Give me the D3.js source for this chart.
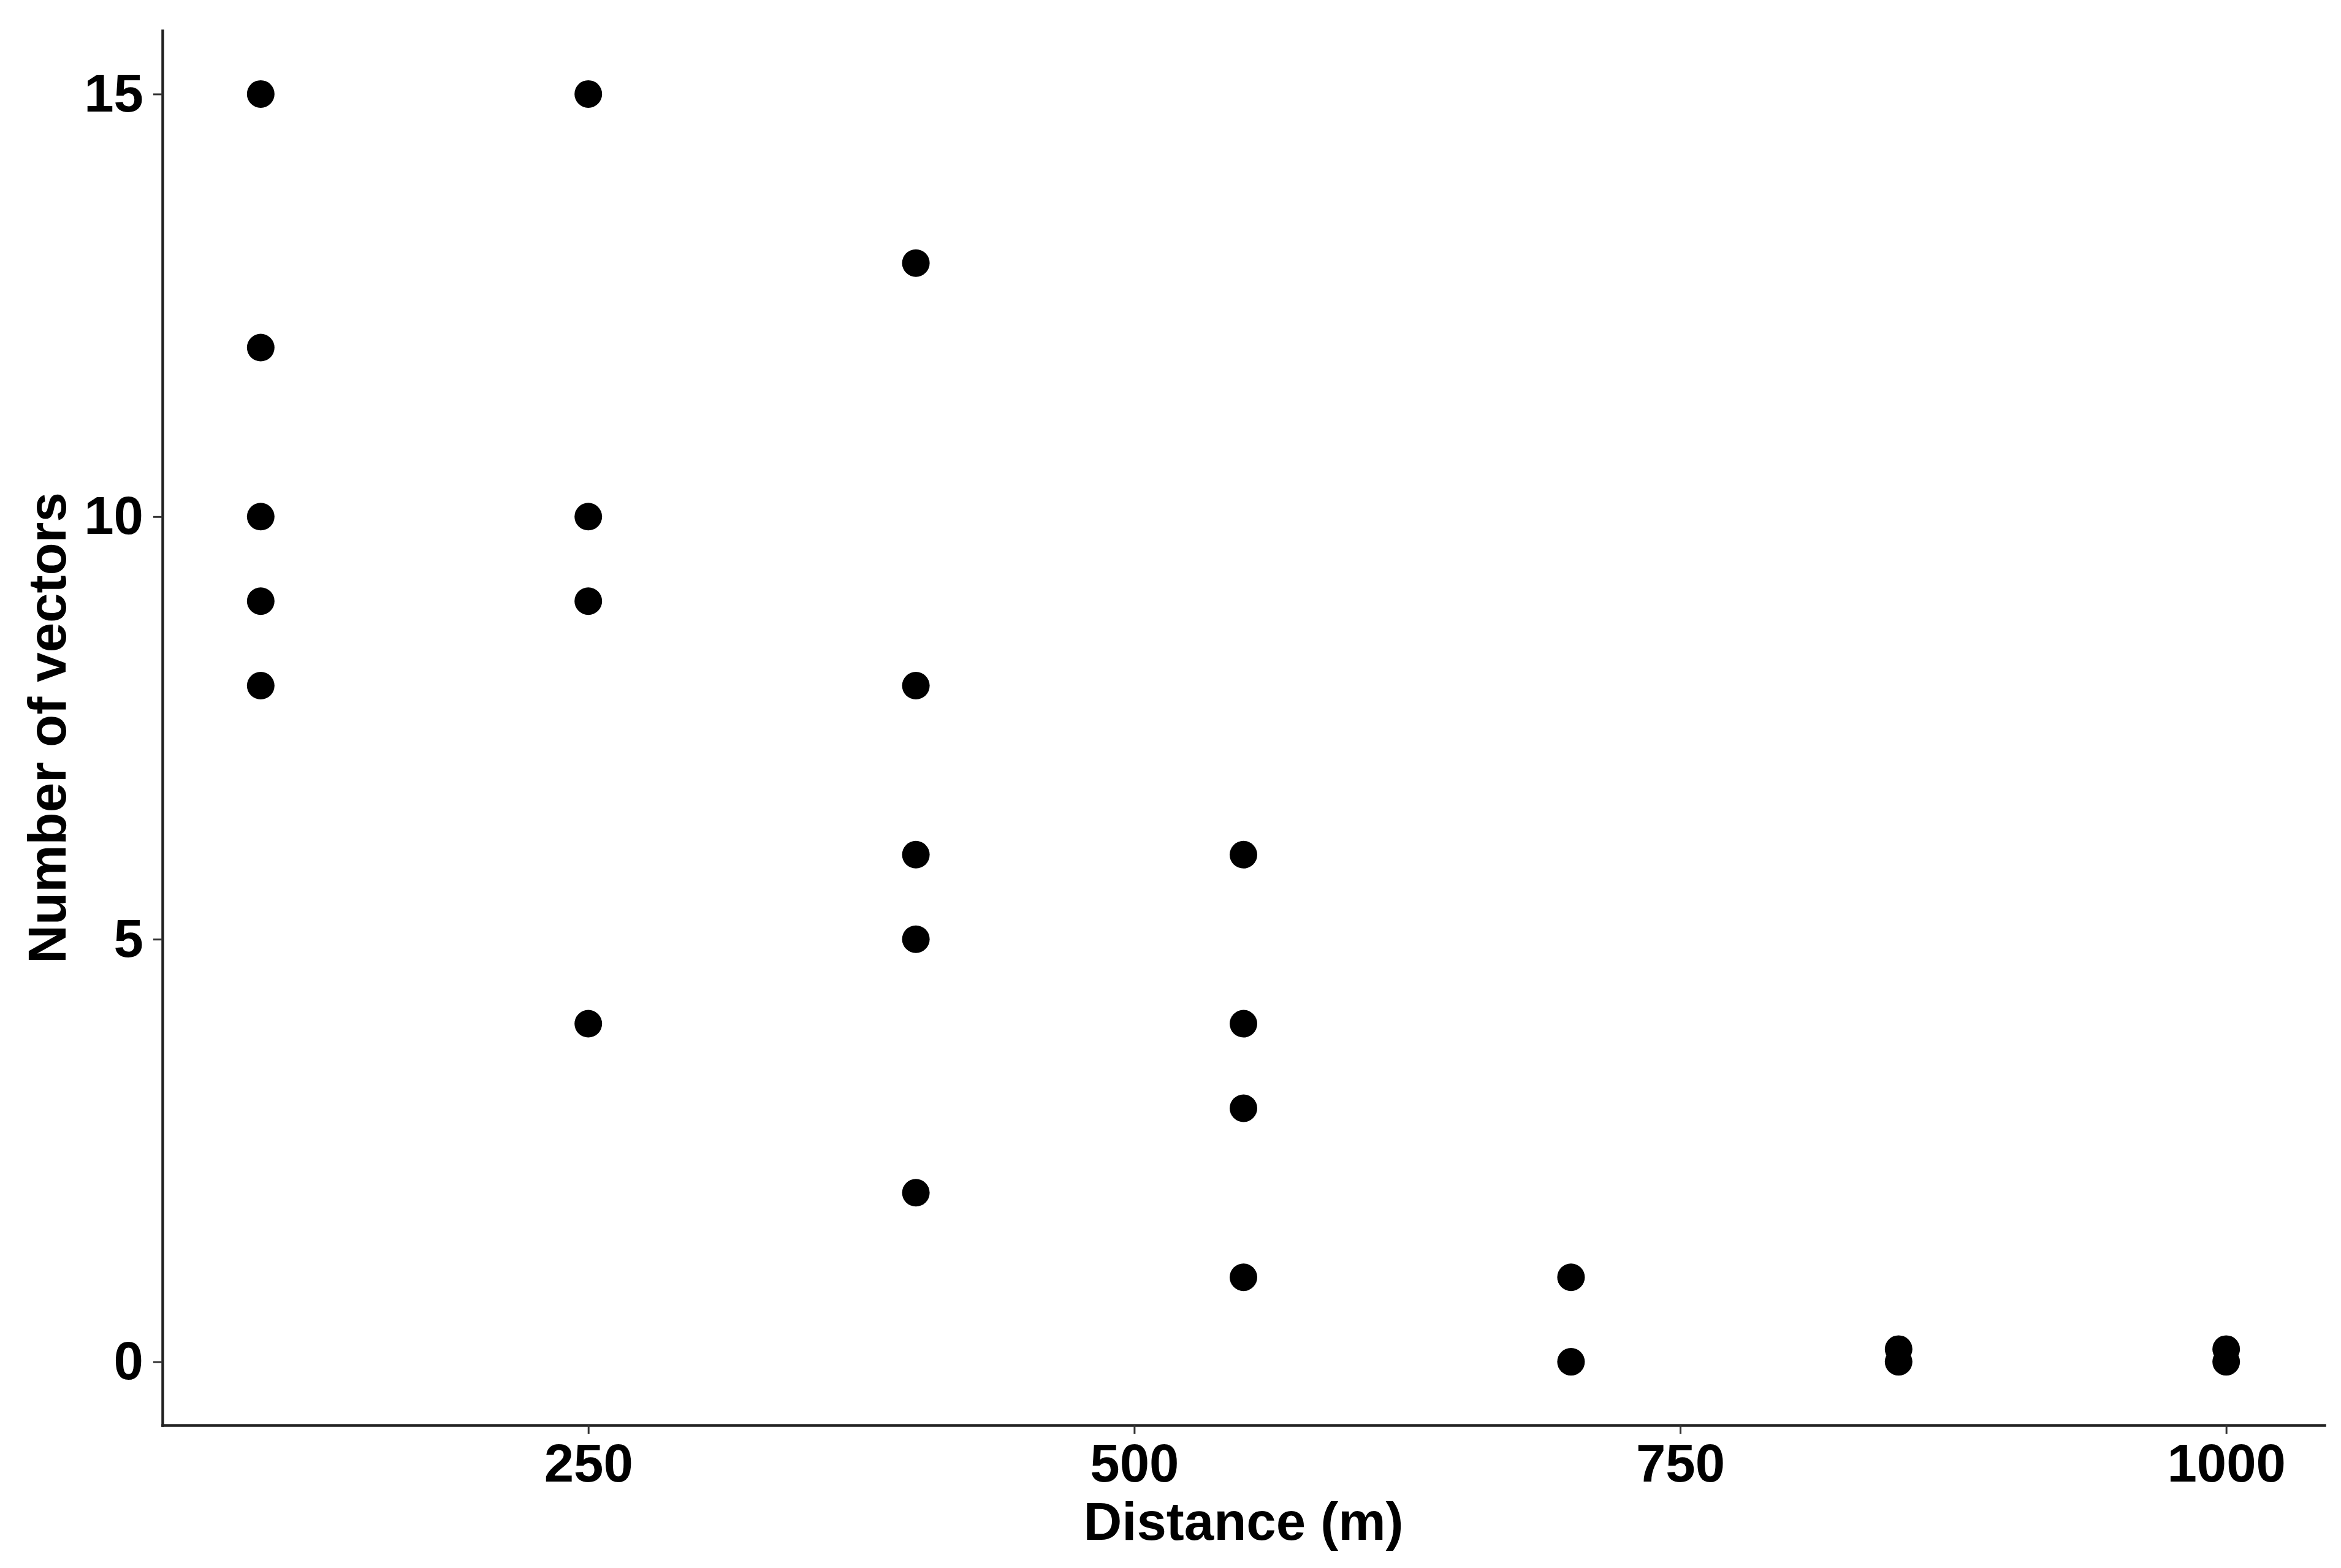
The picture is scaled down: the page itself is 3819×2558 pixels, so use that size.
<!DOCTYPE html>
<html lang="en">
<head>
    <meta charset="UTF-8">
    <title>Vectors by distance</title>
    <style>
        body {
            margin: 0;
            background: #fff;
            overflow: hidden;
        }
        svg {
            display: block;
        }
        text {
            font-family: "Liberation Sans", Arial, sans-serif;
            font-weight: bold;
            fill: #000;
        }
        .axis .domain {
            stroke: #222;
            stroke-width: 4.5px;
            stroke-linecap: square;
        }
        .axis .tick line {
            stroke: #333;
            stroke-width: 3px;
        }
        .axis .tick text {
            font-size: 87px;
        }
        .title {
            font-size: 87px;
        }
    </style>
</head>
<body>

<svg id="chart" width="3819" height="2558"></svg>

<script src="https://d3js.org/d3.v7.min.js"></script>
<script>
    // distance (m) of each sample and the number of vectors counted there
    const distances = [100, 100, 100, 100, 100,
                       250, 250, 250, 250,
                       400, 400, 400, 400, 400,
                       550, 550, 550, 550,
                       700, 700,
                       850, 850,
                       1000, 1000];
    const vectors = [15, 12, 10, 9, 8,
                     15, 10, 9, 4,
                     13, 8, 6, 5, 2,
                     6, 4, 3, 1,
                     1, 0,
                     0.15, 0,
                     0.15, 0];

    const xTicks = [250, 500, 750, 1000];
    const yTicks = [0, 5, 10, 15];
    const xTitle = "Distance (m)";
    const yTitle = "Number of vectors";

    const svg = d3.select("#chart");
    const plotLeft = 265, plotRight = 3792, plotTop = 50, plotBottom = 2325;

    const x = d3.scaleLinear().domain([55, 1045]).range([plotLeft, plotRight]);
    const y = d3.scaleLinear().domain([-0.75, 15.75]).range([plotBottom, plotTop]);

    const points = distances.map((d, i) => ({dist: d, n: vectors[i]}));

    svg.append("g")
        .selectAll("circle")
        .data(points)
        .enter()
        .append("circle")
        .attr("cx", d => x(d.dist))
        .attr("cy", d => y(d.n))
        .attr("r", 22.5)
        .attr("fill", "#000");

    svg.append("g")
        .attr("class", "axis")
        .attr("transform", `translate(0,${plotBottom})`)
        .call(d3.axisBottom(x).tickValues(xTicks).tickFormat(d3.format("d"))
            .tickSize(14).tickSizeOuter(0).tickPadding(16));

    svg.append("g")
        .attr("class", "axis")
        .attr("transform", `translate(${plotLeft},0)`)
        .call(d3.axisLeft(y).tickValues(yTicks).tickFormat(d3.format("d"))
            .tickSize(15).tickSizeOuter(0).tickPadding(16));

    // drop d3's default font settings so the css applies
    svg.selectAll(".axis").attr("font-family", null).attr("font-size", null);

    svg.append("text")
        .attr("class", "title")
        .attr("x", (plotLeft + plotRight) / 2)
        .attr("y", 2512)
        .attr("text-anchor", "middle")
        .text(xTitle);

    svg.append("text")
        .attr("class", "title")
        .attr("transform", `translate(107,${(plotTop + plotBottom) / 2}) rotate(-90)`)
        .attr("text-anchor", "middle")
        .text(yTitle);
</script>

</body>
</html>
